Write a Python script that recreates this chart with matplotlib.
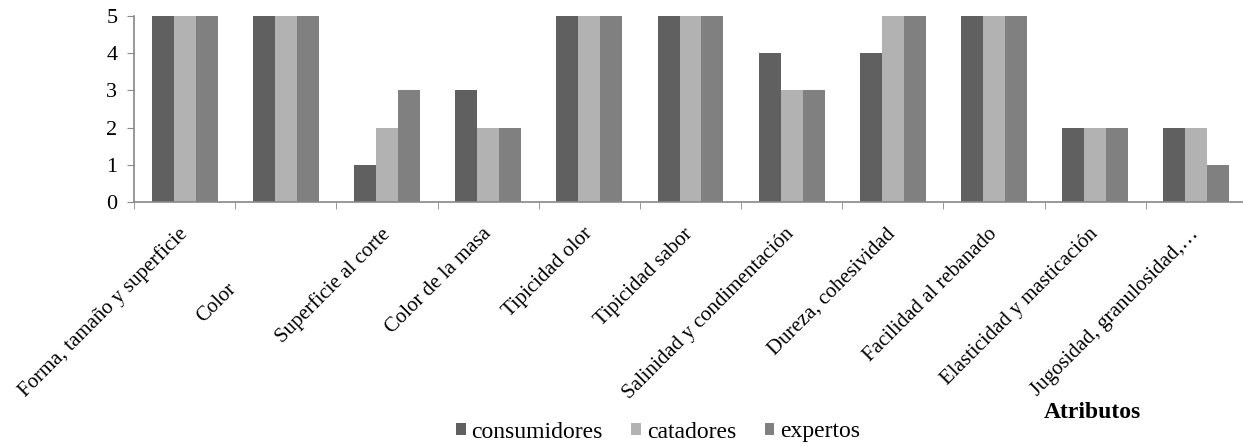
import numpy as np
import matplotlib.pyplot as plt
from matplotlib.transforms import ScaledTranslation

atributos = ['Forma, tamaño y superficie', 'Color', 'Superficie al corte',
             'Color de la masa', 'Tipicidad olor', 'Tipicidad sabor',
             'Salinidad y condimentación', 'Dureza, cohesividad',
             'Facilidad al rebanado', 'Elasticidad y masticación',
             'Jugosidad, granulosidad,…']
consumidores = [5, 5, 1, 3, 5, 5, 4, 4, 5, 2, 2]
catadores = [5, 5, 2, 2, 5, 5, 3, 5, 5, 2, 2]
expertos = [5, 5, 3, 2, 5, 5, 3, 5, 5, 2, 1]

series = [('consumidores', consumidores, '#606060'),
          ('catadores', catadores, '#b2b2b2'),
          ('expertos', expertos, '#808080')]

plt.rcParams['font.family'] = ['Liberation Serif', 'DejaVu Serif']
axis_gray = '#888888'

fig = plt.figure(figsize=(12.43, 4.46), dpi=100)
ax = fig.add_axes([134 / 1243, 1 - 202 / 446, 1113 / 1243, 186 / 446])

x = np.arange(len(atributos))
w = 0.217
for j, (name, vals, col) in enumerate(series):
    ax.bar(x + (j - 1) * w, vals, width=w, color=col, label=name, linewidth=0)

ax.set_xlim(-0.5, len(atributos) - 0.5)
ax.set_ylim(0, 5)
ax.set_yticks(range(6))
ax.tick_params(axis='y', labelsize=16, length=5, color=axis_gray, pad=7)

# category labels centred under groups, tick marks on group boundaries
ax.set_xticks(x)
ax.set_xticklabels(atributos, rotation=45, ha='right', va='center',
                   rotation_mode='anchor', fontsize=15)
ax.tick_params(axis='x', which='major', length=0, pad=21)
ax.set_xticks(np.arange(len(atributos) + 1) - 0.5, minor=True)
ax.tick_params(axis='x', which='minor', length=5, color=axis_gray)

# short label sits further down the diagonal
lbl = ax.get_xticklabels()[1]
lbl.set_transform(lbl.get_transform() +
                  ScaledTranslation(-52 / 100, -55 / 100, fig.dpi_scale_trans))

for s in ['top', 'right']:
    ax.spines[s].set_visible(False)
for s in ['left', 'bottom']:
    ax.spines[s].set_color(axis_gray)
    ax.spines[s].set_linewidth(1.2)

fig.text(1092 / 1243, 1 - 412 / 446, 'Atributos', fontsize=17,
         fontweight='bold', ha='center', va='center')

fig.legend(loc='center', bbox_to_anchor=(658 / 1243, 1 - 432 / 446), ncol=3,
           frameon=False, fontsize=17, handlelength=0.42, handleheight=0.42,
           handletextpad=0.25, columnspacing=1.2)

fig.savefig('out.png', dpi=100)
